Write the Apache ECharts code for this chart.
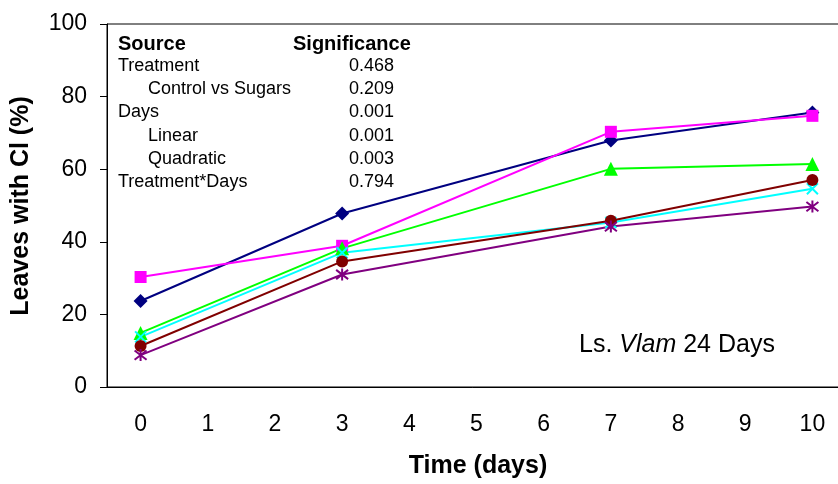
<!DOCTYPE html>
<html>
<head>
<meta charset="utf-8">
<script src="https://cdn.jsdelivr.net/npm/echarts@6/dist/echarts.min.js"></script>
<style>
  html, body { margin: 0; padding: 0; background: #fff; }
  #chart { width: 838px; height: 484px; }
</style>
</head>
<body>
<div id="chart"></div>
<script>
// Leaves with chilling injury over storage time, one line per treatment
const dayTicks = ['0', '1', '2', '3', '4', '5', '6', '7', '8', '9', '10'];
const sampleDays = ['0', '3', '7', '10'];

const treatment1 = [23.7, 47.8, 67.9, 75.6];
const treatment2 = [30.3, 38.9, 70.3, 74.7];
const treatment3 = [14.9, 38.2, 60.1, 61.4];
const treatment4 = [13.8, 37.0, 45.3, 54.6];
const treatment5 = [11.3, 34.6, 45.8, 57.0];
const treatment6 = [8.8, 31.0, 44.2, 49.7];

const yTicks = [0, 20, 40, 60, 80, 100];

// ANOVA summary shown inside the plot
const sources = ['Treatment', 'Control vs Sugars', 'Days', 'Linear', 'Quadratic', 'Treatment*Days'];
const sourceIndented = [false, true, false, true, true, false];
const significance = ['0.468', '0.209', '0.001', '0.001', '0.003', '0.794'];

const FONT = '"Liberation Sans", Arial, sans-serif';

const crossPath = 'path://M0,0L10,10M10,0L0,10';
const starPath = 'path://M0,0L10,10M10,0L0,10M5,-1.5L5,11.5';

function pairs(vals) {
  return sampleDays.map((d, i) => [d, vals[i]]);
}

function lineSeries(name, vals, color, symbol, size, stroked) {
  return {
    name: name,
    type: 'line',
    data: pairs(vals),
    symbol: symbol,
    symbolSize: size,
    showAllSymbol: true,
    connectNulls: true,
    lineStyle: { color: color, width: 2 },
    itemStyle: stroked
      ? { color: 'none', borderColor: color, borderWidth: 2 }
      : { color: color, borderWidth: 0 },
    emphasis: { disabled: true },
    z: 3
  };
}

const tableGraphics = [];
tableGraphics.push({
  type: 'text', x: 118, y: 44,
  style: { text: 'Source', font: 'bold 20px ' + FONT, fill: '#000', verticalAlign: 'middle' }
});
tableGraphics.push({
  type: 'text', x: 293, y: 44,
  style: { text: 'Significance', font: 'bold 20px ' + FONT, fill: '#000', verticalAlign: 'middle' }
});
sources.forEach((s, i) => {
  const rowY = 66 + i * 23.2;
  tableGraphics.push({
    type: 'text', x: sourceIndented[i] ? 148 : 118, y: rowY,
    style: { text: s, font: '18px ' + FONT, fill: '#000', verticalAlign: 'middle' }
  });
  tableGraphics.push({
    type: 'text', x: 349, y: rowY,
    style: { text: significance[i], font: '18px ' + FONT, fill: '#000', verticalAlign: 'middle' }
  });
});

const chart = echarts.init(document.getElementById('chart'), null, { renderer: 'canvas' });
chart.setOption({
  animation: false,
  backgroundColor: '#fff',
  grid: {
    left: 107, top: 24, bottom: 97, width: 739,
    outerBoundsMode: 'none',
    containLabel: false,
    show: true, borderColor: '#000', borderWidth: 1, backgroundColor: 'transparent'
  },
  xAxis: {
    type: 'category',
    data: dayTicks,
    boundaryGap: true,
    axisLine: { lineStyle: { color: '#000', width: 1 } },
    axisTick: { show: false },
    axisLabel: { color: '#000', fontSize: 23, fontFamily: FONT, margin: 26 },
    splitLine: { show: false }
  },
  yAxis: {
    type: 'value',
    min: yTicks[0],
    max: yTicks[yTicks.length - 1],
    interval: yTicks[1] - yTicks[0],
    axisLine: { show: true, lineStyle: { color: '#000', width: 1 } },
    axisTick: { show: true, inside: false, length: 7, lineStyle: { color: '#000' } },
    axisLabel: { color: '#000', fontSize: 23, fontFamily: FONT, margin: 20 },
    splitLine: { show: false }
  },
  series: [
    lineSeries('Treatment 1', treatment1, '#000080', 'diamond', 14, false),
    lineSeries('Treatment 2', treatment2, '#FF00FF', 'rect', 12, false),
    lineSeries('Treatment 3', treatment3, '#00FF00', 'triangle', 14, false),
    lineSeries('Treatment 4', treatment4, '#00FFFF', crossPath, 11, true),
    lineSeries('Treatment 5', treatment5, '#800000', 'circle', 12, false),
    lineSeries('Treatment 6', treatment6, '#800080', starPath, 12, true)
  ],
  graphic: tableGraphics.concat([
    {
      type: 'text', x: 21, y: 206, rotation: Math.PI / 2,
      style: {
        text: 'Leaves with Cl (%)', font: 'bold 25px ' + FONT, fill: '#000',
        align: 'center', verticalAlign: 'middle'
      }
    },
    {
      type: 'text', x: 478, y: 466,
      style: {
        text: 'Time (days)', font: 'bold 25px ' + FONT, fill: '#000',
        align: 'center', verticalAlign: 'middle'
      }
    },
    {
      type: 'text', x: 579, y: 345,
      style: {
        rich: {
          n: { font: '25px ' + FONT, fill: '#000' },
          i: { font: 'italic 25px ' + FONT, fill: '#000' }
        },
        text: '{n|Ls. }{i|Vlam}{n| 24 Days}',
        verticalAlign: 'middle'
      }
    }
  ])
});
</script>
</body>
</html>
